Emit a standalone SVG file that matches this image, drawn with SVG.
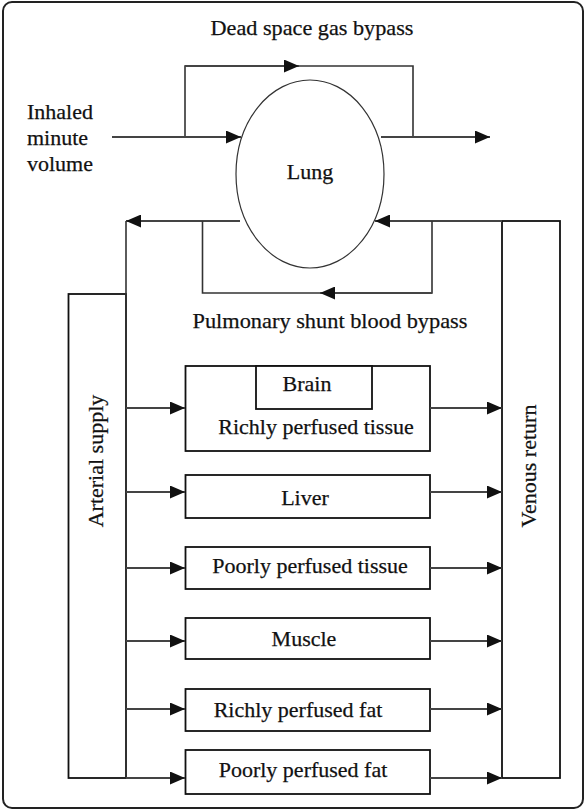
<svg xmlns="http://www.w3.org/2000/svg" width="586" height="810" viewBox="0 0 586 810" font-family="'Liberation Serif', 'Times New Roman', 'DejaVu Serif', serif">
<defs>
<marker id="ah" markerWidth="15" markerHeight="13" refX="15" refY="6.5" orient="auto" markerUnits="userSpaceOnUse">
<path d="M0,0 L15,6.5 L0,13 Z" fill="#111"/>
</marker>
<style>
text{font-size:22px;fill:#111;stroke:#111;stroke-width:0.25}
.c{text-anchor:middle}
.box{fill:#fff;stroke:#111;stroke-width:1.8}
.ln{fill:none;stroke:#333;stroke-width:1.6}
.ar{fill:none;stroke:#444;stroke-width:1.8;marker-end:url(#ah)}
</style>
</defs>
<rect x="3" y="2" width="580" height="806" rx="9" fill="#fff" stroke="#222" stroke-width="2"/>
<text class="c" x="312" y="35" textLength="203" lengthAdjust="spacingAndGlyphs">Dead space gas bypass</text>
<g id="inhaled">
<text x="27" y="119">Inhaled</text>
<text x="27" y="145">minute</text>
<text x="27" y="171">volume</text>
</g>
<g id="lung">
<ellipse cx="310" cy="174" rx="74" ry="94" fill="#fff" stroke="#333" stroke-width="1.2"/>
<text class="c" x="310" y="179">Lung</text>
</g>
<text class="c" x="330" y="328" textLength="275" lengthAdjust="spacingAndGlyphs">Pulmonary shunt blood bypass</text>
<g id="arterial">
<rect class="box" x="68.5" y="294" width="57.5" height="484"/>
<text class="c" transform="translate(103,461) rotate(-90)" x="0" y="0">Arterial supply</text>
</g>
<g id="venous">
<rect class="box" x="502" y="221" width="58" height="557"/>
<text class="c" transform="translate(536,466) rotate(-90)" x="0" y="0">Venous return</text>
</g>
<g id="richly-tissue">
<rect class="box" x="185.5" y="366" width="244.5" height="85"/>
<rect class="box" x="256" y="366" width="116" height="43"/>
<text class="c" x="307" y="391">Brain</text>
<text class="c" x="316" y="434">Richly perfused tissue</text>
</g>
<g id="liver">
<rect class="box" x="185.5" y="475" width="244.5" height="43"/>
<text class="c" x="305" y="505">Liver</text>
</g>
<g id="poorly-tissue">
<rect class="box" x="185.5" y="547" width="244.5" height="42"/>
<text class="c" x="310" y="573">Poorly perfused tissue</text>
</g>
<g id="muscle">
<rect class="box" x="185.5" y="618" width="244.5" height="41"/>
<text class="c" x="304" y="646">Muscle</text>
</g>
<g id="richly-fat">
<rect class="box" x="185.5" y="689" width="244.5" height="42"/>
<text class="c" x="298" y="717">Richly perfused fat</text>
</g>
<g id="poorly-fat">
<rect class="box" x="185.5" y="750" width="244.5" height="44"/>
<text class="c" x="303" y="777">Poorly perfused fat</text>
</g>
<g id="connectors">
<path class="ln" d="M185,137 V66 H413 V137"/>
<path class="ar" d="M185,66 H299"/>
<path class="ar" d="M112,137 H241"/>
<path class="ar" d="M381,137 H490"/>
<path class="ar" d="M240,221 H126"/>
<path class="ln" d="M126,221 V778"/>
<path class="ar" d="M502,221 H375"/>
<path class="ln" d="M202.5,221 V293 H432 V221"/>
<path class="ar" d="M432,293 H320"/>
<path class="ar" d="M126,408 H185"/>
<path class="ar" d="M430,408 H502"/>
<path class="ar" d="M126,492 H185"/>
<path class="ar" d="M430,492 H502"/>
<path class="ar" d="M126,568 H185"/>
<path class="ar" d="M430,568 H502"/>
<path class="ar" d="M126,641 H185"/>
<path class="ar" d="M430,641 H502"/>
<path class="ar" d="M126,709 H185"/>
<path class="ar" d="M430,709 H502"/>
<path class="ar" d="M126,778 H185"/>
<path class="ar" d="M430,778 H502"/>
</g>
</svg>
